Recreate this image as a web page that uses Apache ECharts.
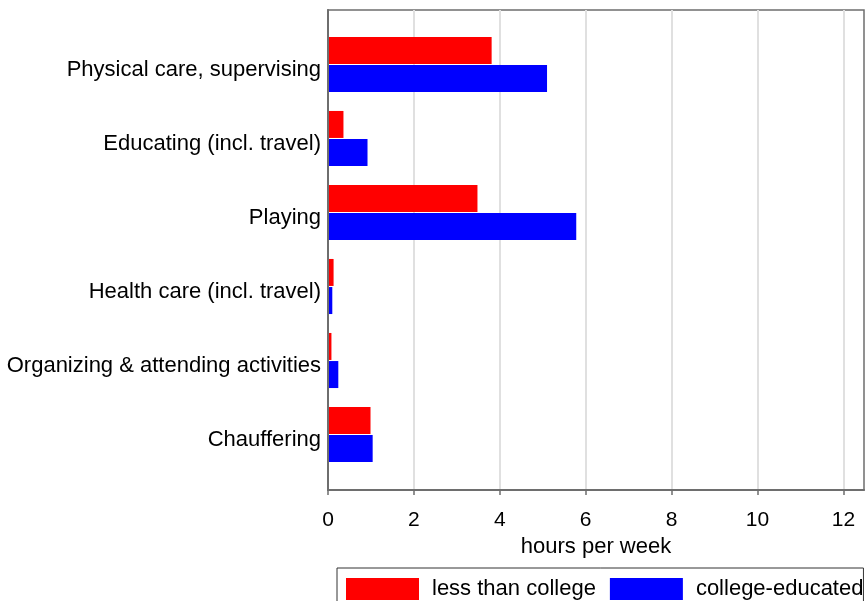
<!DOCTYPE html>
<html>
<head>
<meta charset="utf-8">
<script src="https://cdn.jsdelivr.net/npm/echarts@6/dist/echarts.min.js"></script>
<style>
html,body{margin:0;padding:0;background:#fff;}
#chart{width:865px;height:601px;}
</style>
</head>
<body>
<div id="chart"></div>
<script>
var categories = [
  'Physical care, supervising',
  'Educating (incl. travel)',
  'Playing',
  'Health care (incl. travel)',
  'Organizing & attending activities',
  'Chauffering'
];
var lessThanCollege = [3.81, 0.36, 3.48, 0.13, 0.08, 0.99];
var collegeEducated = [5.10, 0.92, 5.78, 0.10, 0.24, 1.04];
var xTicks = [0, 2, 4, 6, 8, 10, 12];

var FONT = '"Liberation Sans", Arial, Helvetica, sans-serif';
var chart = echarts.init(document.getElementById('chart'));
var xMin = 0, xMax = 12.48;

chart.setOption({
  animation: false,
  backgroundColor: '#ffffff',
  textStyle: { fontFamily: FONT },
  grid: [
    { left: 328, right: 1, top: 10, bottom: 111, show: true, borderColor: '#6e6e6e', borderWidth: 1.5, containLabel: false },
    { left: 328, right: 1, top: 27.5, bottom: 129.5, containLabel: false }
  ],
  legend: {
    data: ['less than college', 'college-educated'],
    left: 337, top: 568, width: 560,
    orient: 'horizontal',
    itemWidth: 73, itemHeight: 22, itemGap: 14,
    padding: [10, 0, 10, 9],
    borderColor: '#333', borderWidth: 1,
    icon: 'rect',
    textStyle: { fontSize: 22, color: '#000', fontFamily: FONT, padding: [0, 0, 0, 8] }
  },
  xAxis: [
    {
      gridIndex: 0, type: 'value', min: xMin, max: xMax, interval: 2,
      name: 'hours per week', nameLocation: 'middle', nameGap: 38,
      nameTextStyle: { fontSize: 22, color: '#000', fontFamily: FONT },
      axisLine: { show: true, lineStyle: { color: '#6e6e6e', width: 2 } },
      axisTick: { show: true, length: 5, lineStyle: { color: '#6e6e6e', width: 1.5 },
        customValues: xTicks },
      axisLabel: { fontSize: 21, color: '#000', margin: 20, fontFamily: FONT,
        customValues: xTicks,
        formatter: function (v) { return xTicks.indexOf(v) >= 0 ? String(v) : ''; } },
      splitLine: { show: true, lineStyle: { color: '#e0e0e0', width: 2 } },
      z: 0
    },
    {
      gridIndex: 1, type: 'value', min: xMin, max: xMax, interval: 2,
      show: false, splitLine: { show: false }
    }
  ],
  yAxis: [
    {
      gridIndex: 0, type: 'value', min: 0, max: 1,
      axisLine: { show: true, lineStyle: { color: '#6e6e6e', width: 2 } },
      axisTick: { show: false }, axisLabel: { show: false }, splitLine: { show: false },
      z: 5
    },
    {
      gridIndex: 1, type: 'category', data: categories, inverse: true,
      axisLine: { show: false }, axisTick: { show: false }, splitLine: { show: false },
      axisLabel: { fontSize: 22, color: '#000', margin: 7, fontFamily: FONT,
        verticalAlign: 'top', lineHeight: 10 }
    }
  ],
  series: [
    {
      name: 'less than college', type: 'bar', xAxisIndex: 1, yAxisIndex: 1,
      data: lessThanCollege, barWidth: 27, barGap: '4%',
      itemStyle: { color: '#ff0000' }
    },
    {
      name: 'college-educated', type: 'bar', xAxisIndex: 1, yAxisIndex: 1,
      data: collegeEducated, barWidth: 27, barGap: '4%',
      itemStyle: { color: '#0000ff' }
    }
  ]
});
</script>
</body>
</html>
